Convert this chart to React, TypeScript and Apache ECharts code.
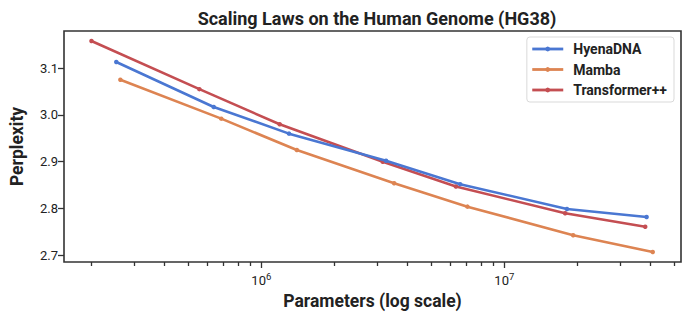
import React, { useEffect, useRef } from "react";
import * as echarts from "echarts";

const seriesNames = ["HyenaDNA", "Mamba", "Transformer++"];
const hyenaParams = [2.53e5, 6.37e5, 1.3e6, 3.26e6, 6.58e6, 1.81e7, 3.85e7];
const hyenaPpl = [3.113, 3.017, 2.96, 2.902, 2.852, 2.799, 2.782];
const mambaParams = [2.63e5, 6.84e5, 1.4e6, 3.52e6, 7.05e6, 1.92e7, 4.08e7];
const mambaPpl = [3.075, 2.992, 2.925, 2.854, 2.804, 2.743, 2.707];
const tppParams = [2.0e5, 5.56e5, 1.19e6, 3.16e6, 6.32e6, 1.78e7, 3.8e7];
const tppPpl = [3.158, 3.055, 2.98, 2.9, 2.847, 2.79, 2.761];
const colors = ["#4a77d2", "#dd8452", "#c44e52"];

const yTicks = [2.7, 2.8, 2.9, 3.0, 3.1];
const xMajorTicks = [1e6, 1e7];
const xMinorTicks = [
  2e5, 3e5, 4e5, 5e5, 6e5, 7e5, 8e5, 9e5,
  2e6, 3e6, 4e6, 5e6, 6e6, 7e6, 8e6, 9e6,
  2e7, 3e7, 4e7, 5e7,
];

const X_LOG_MIN = 5.188;
const X_LOG_MAX = 7.727;
const Y_MIN = 2.6857;
const Y_MAX = 3.1793;

const FONT = "Roboto, 'Noto Sans', sans-serif";

export default function App() {
  const ref = useRef<HTMLDivElement>(null);
  useEffect(() => {
    if (!ref.current) return;
    const chart = echarts.init(ref.current, null, { renderer: "svg" });
    const pairs = (xs: number[], ys: number[]) => xs.map((x, i) => [x, ys[i]]);
    const datasets = [
      pairs(hyenaParams, hyenaPpl),
      pairs(mambaParams, mambaPpl),
      pairs(tppParams, tppPpl),
    ];
    const tickStyle = { color: "#333", width: 1.3 };
    chart.setOption({
      animation: false,
      textStyle: { fontFamily: FONT },
      title: {
        text: "Scaling Laws on the Human Genome (HG38)",
        left: 372,
        textAlign: "center",
        top: 4,
        textStyle: { fontFamily: FONT, fontSize: 18, fontWeight: "bold", color: "#222" },
      },
      legend: {
        data: seriesNames,
        orient: "vertical",
        right: 16,
        top: 37,
        itemWidth: 31,
        itemHeight: 6,
        itemGap: 6.5,
        padding: [5, 7, 5, 4],
        borderColor: "#d9d9d9",
        borderWidth: 1,
        borderRadius: 3,
        backgroundColor: "#fff",
        lineStyle: { width: 2.8 },
        textStyle: {
          fontFamily: FONT,
          fontSize: 14,
          lineHeight: 14,
          fontWeight: "bold",
          color: "#222",
          padding: [0, 0, 0, 5],
        },
      },
      grid: {
        left: 64,
        right: 9,
        top: 31,
        bottom: 59,
        show: true,
        borderColor: "#333",
        borderWidth: 1.6,
        backgroundColor: "transparent",
      },
      xAxis: [
        {
          type: "log",
          position: "bottom",
          min: Math.pow(10, X_LOG_MIN),
          max: Math.pow(10, X_LOG_MAX),
          axisLine: { show: false },
          axisTick: { show: false },
          axisLabel: { show: false },
          splitLine: { show: false },
          minorSplitLine: { show: false },
        },
        {
          type: "value",
          position: "bottom",
          min: X_LOG_MIN,
          max: X_LOG_MAX,
          name: "Parameters (log scale)",
          nameLocation: "middle",
          nameGap: 29,
          nameTextStyle: { fontFamily: FONT, fontSize: 17.5, fontWeight: "bold", color: "#222" },
          axisLine: { show: false },
          splitLine: { show: false },
          axisTick: {
            show: true,
            length: 6,
            lineStyle: tickStyle,
            customValues: xMajorTicks.map((v) => Math.log10(v)),
          },
          axisLabel: {
            show: true,
            margin: 9,
            customValues: xMajorTicks.map((v) => Math.log10(v)),
            formatter: (v: number) => `{b|10}{s|${Math.round(v)}}`,
            rich: {
              b: { fontFamily: FONT, fontSize: 13, color: "#222", verticalAlign: "bottom", lineHeight: 16 },
              s: { fontFamily: FONT, fontSize: 9.5, color: "#222", verticalAlign: "top", lineHeight: 16, padding: [0, 0, 6, 0] },
            },
          },
        },
        {
          type: "value",
          position: "bottom",
          min: X_LOG_MIN,
          max: X_LOG_MAX,
          axisLine: { show: false },
          splitLine: { show: false },
          axisLabel: { show: false },
          axisTick: {
            show: true,
            length: 4,
            lineStyle: tickStyle,
            customValues: xMinorTicks.map((v) => Math.log10(v)),
          },
        },
      ],
      yAxis: {
        type: "value",
        min: Y_MIN,
        max: Y_MAX,
        name: "Perplexity",
        nameLocation: "middle",
        nameGap: 38,
        nameTextStyle: { fontFamily: FONT, fontSize: 17.5, fontWeight: "bold", color: "#222" },
        axisLine: { show: false },
        splitLine: { show: false },
        axisTick: { show: true, length: 6, lineStyle: tickStyle, customValues: yTicks },
        axisLabel: {
          customValues: yTicks,
          margin: 6,
          fontFamily: FONT,
          fontSize: 13,
          color: "#222",
          formatter: (v: number) => v.toFixed(1),
        },
      },
      series: seriesNames.map((name, i) => ({
        name,
        type: "line",
        xAxisIndex: 0,
        data: datasets[i],
        symbol: "circle",
        symbolSize: 4.5,
        showSymbol: true,
        color: colors[i],
        lineStyle: { width: 2.6, color: colors[i] },
        itemStyle: { color: colors[i] },
        z: i === 0 ? 3 : 2,
      })),
    });
    return () => chart.dispose();
  }, []);
  return (
    <div
      ref={ref}
      style={{ position: "fixed", left: 0, top: 0, width: 690, height: 321, background: "#fff" }}
    />
  );
}
